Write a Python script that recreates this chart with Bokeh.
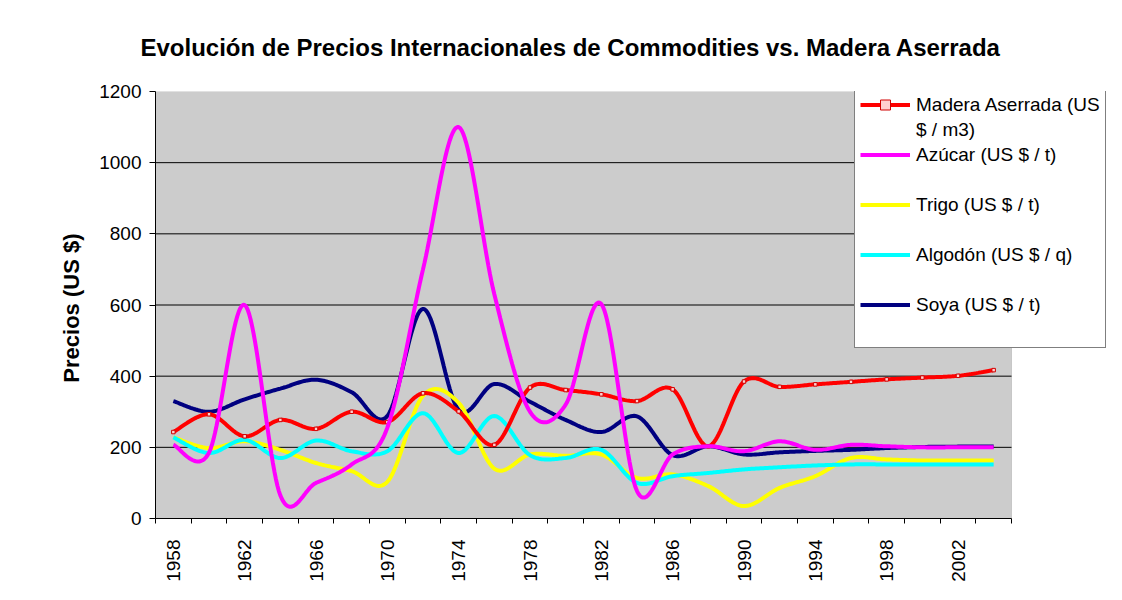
import numpy as np
from bokeh.plotting import figure
from bokeh.models import FixedTicker, Legend, LegendItem, BoxAnnotation
from bokeh.embed import file_html
from bokeh.resources import INLINE

# ---- data -------------------------------------------------------------
years = [1958, 1960, 1962, 1964, 1966, 1968, 1970, 1972, 1974, 1976, 1978, 1980,
         1982, 1984, 1986, 1988, 1990, 1992, 1994, 1996, 1998, 2000, 2002, 2004]
madera = [243, 293, 231, 277, 252, 300, 271, 352, 301, 207, 368, 361,
          349, 330, 363, 203, 385, 370, 377, 384, 391, 396, 401, 417]
azucar = [207, 185, 600, 65, 100, 152, 255, 700, 1100, 630, 300, 320,
          603, 77, 180, 203, 189, 217, 193, 207, 203, 200, 200, 200]
trigo = [228, 198, 217, 193, 156, 133, 103, 345, 325, 140, 180, 176,
         180, 114, 124, 91, 35, 86, 119, 170, 166, 163, 163, 163]
algodon = [228, 184, 221, 170, 219, 189, 189, 296, 184, 288, 178, 170,
           193, 100, 119, 128, 138, 144, 149, 152, 152, 152, 152, 152]
soya = [330, 300, 335, 365, 390, 355, 288, 589, 305, 378, 328, 277,
        243, 287, 178, 203, 180, 186, 190, 193, 198, 201, 202, 202]

series_names = ["Madera Aserrada (US", "$ / m3)", "Azúcar (US $ / t)", "Trigo (US $ / t)",
                "Algodón (US $ / q)", "Soya (US $ / t)"]
y_ticks = [0, 200, 400, 600, 800, 1000, 1200]
label_years = years[::2]


def smooth(xs, ys, n=24):
    """Excel-like smoothed line (Catmull-Rom Bezier) through the data points."""
    x = np.asarray(xs, float)
    y = np.asarray(ys, float)
    px = np.concatenate([[x[0]], x, [x[-1]]])
    py = np.concatenate([[y[0]], y, [y[-1]]])
    t = np.linspace(0, 1, n, endpoint=False)
    b0, b1, b2, b3 = (1 - t) ** 3, 3 * t * (1 - t) ** 2, 3 * t ** 2 * (1 - t), t ** 3
    ox, oy = [], []
    for i in range(len(x) - 1):
        p0x, p1x, p2x, p3x = px[i], px[i + 1], px[i + 2], px[i + 3]
        p0y, p1y, p2y, p3y = py[i], py[i + 1], py[i + 2], py[i + 3]
        c1x, c1y = p1x + (p2x - p0x) / 6, p1y + (p2y - p0y) / 6
        c2x, c2y = p2x - (p3x - p1x) / 6, p2y - (p3y - p1y) / 6
        ox.extend(b0 * p1x + b1 * c1x + b2 * c2x + b3 * p2x)
        oy.extend(b0 * p1y + b1 * c1y + b2 * c2y + b3 * p2y)
    ox.append(x[-1])
    oy.append(y[-1])
    return ox, oy


FONT = "Liberation Sans"
W, H = 1106, 584
LEFT, TOP, BOTTOM = 155, 91, 521          # plot-area pixel edges
x0, x1 = years[0] - 1, years[-1] + 1       # category band edges
x_per_px = (x1 - x0) / (1011 - LEFT)
x_end = x0 + (W - LEFT) * x_per_px         # frame extends under the legend

p = figure(width=W, height=H, x_range=(x0, x_end), y_range=(0, 1200),
           output_backend="svg", toolbar_location=None,
           min_border_left=LEFT, min_border_right=0, min_border_top=TOP,
           min_border_bottom=H - BOTTOM,
           background_fill_color="white", border_fill_color="white",
           outline_line_color=None)

# grey plot area with its border
p.add_layout(BoxAnnotation(left=x0, right=x1, bottom=0, top=1200,
                           fill_color="#CCCCCC", fill_alpha=1,
                           line_color="#808080", line_width=1, level="image"))

p.title.text = "Evolución de Precios Internacionales de Commodities vs. Madera Aserrada"
p.title.text_font = FONT
p.title.text_font_size = "24px"
p.title.text_font_style = "bold"
p.title.text_color = "black"
p.title.align = "left"
p.title.offset = -15
p.title.standoff = 61

# x axis: labels at category centres, tick marks at category boundaries
bounds = [yv - 1 for yv in years] + [years[-1] + 1]
p.xaxis.bounds = (x0, x1)
p.xaxis.ticker = FixedTicker(ticks=label_years, minor_ticks=bounds)
p.xaxis.major_label_orientation = np.pi / 2
p.xaxis.major_tick_out = 0
p.xaxis.major_tick_in = 0
p.xaxis.minor_tick_out = 5
p.xaxis.minor_tick_in = 0
p.xaxis.minor_tick_line_color = "black"
p.xaxis.axis_line_color = "black"
p.xaxis.major_label_standoff = 16
p.xaxis.major_label_text_font = FONT
p.xaxis.major_label_text_font_size = "19px"
p.xaxis.major_label_text_color = "black"

p.yaxis.ticker = FixedTicker(ticks=y_ticks)
p.yaxis.major_tick_out = 6
p.yaxis.major_tick_in = 0
p.yaxis.minor_tick_out = 0
p.yaxis.minor_tick_in = 0
p.yaxis.major_tick_line_color = "black"
p.yaxis.axis_line_color = "black"
p.yaxis.major_label_standoff = 8
p.yaxis.major_label_text_font = FONT
p.yaxis.major_label_text_font_size = "19px"
p.yaxis.major_label_text_color = "black"
p.yaxis.axis_label = "Precios  (US $)"
p.yaxis.axis_label_text_font = FONT
p.yaxis.axis_label_text_font_size = "22px"
p.yaxis.axis_label_text_font_style = "bold"
p.yaxis.axis_label_text_color = "black"
p.yaxis.axis_label_standoff = 12

# horizontal gridlines only across the grey plot area
p.xgrid.grid_line_color = None
p.ygrid.grid_line_color = None
grid_vals = y_ticks[1:-1]
p.segment(x0=[x0] * len(grid_vals), y0=grid_vals, x1=[x1] * len(grid_vals), y1=grid_vals,
          line_color="black", line_width=1, level="underlay")

LW = 4
sx, sy = smooth(years, soya)
r_soya = p.line(sx, sy, line_color="#000080", line_width=LW)
tx, ty = smooth(years, trigo)
r_trigo = p.line(tx, ty, line_color="#FFFF00", line_width=LW)
ax_, ay_ = smooth(years, algodon)
r_alg = p.line(ax_, ay_, line_color="#00FFFF", line_width=LW)
mx, my = smooth(years, madera)
r_mad = p.line(mx, my, line_color="#FF0000", line_width=LW)
r_madm = p.scatter(years, madera, marker="square", size=3.5, fill_color="#FFD0D0",
                   line_color="#D00000", line_width=1)
zx, zy = smooth(years, azucar)
r_azu = p.line(zx, zy, line_color="#FF00FF", line_width=LW)
r_blank = p.line([], [], line_alpha=0)

legend = Legend(items=[
    LegendItem(label=series_names[0], renderers=[r_mad, r_madm]),
    LegendItem(label=series_names[1], renderers=[r_blank]),
    LegendItem(label=series_names[2], renderers=[r_azu]),
    LegendItem(label=" ", renderers=[r_blank]),
    LegendItem(label=series_names[3], renderers=[r_trigo]),
    LegendItem(label=" ", renderers=[r_blank]),
    LegendItem(label=series_names[4], renderers=[r_alg]),
    LegendItem(label=" ", renderers=[r_blank]),
    LegendItem(label=series_names[5], renderers=[r_soya]),
    LegendItem(label=" ", renderers=[r_blank]),
], location=(854 - LEFT, BOTTOM - 351))
legend.border_line_color = "black"
legend.border_line_width = 1
legend.background_fill_color = "white"
legend.background_fill_alpha = 1
legend.label_text_font = FONT
legend.label_text_font_size = "19px"
legend.label_text_color = "black"
legend.glyph_width = 50
legend.glyph_height = 25
legend.label_standoff = 6
legend.padding = 5
legend.spacing = 0
legend.label_height = 25
legend.margin = 0
p.add_layout(legend)

open("out.html", "w").write(file_html(p, INLINE))
